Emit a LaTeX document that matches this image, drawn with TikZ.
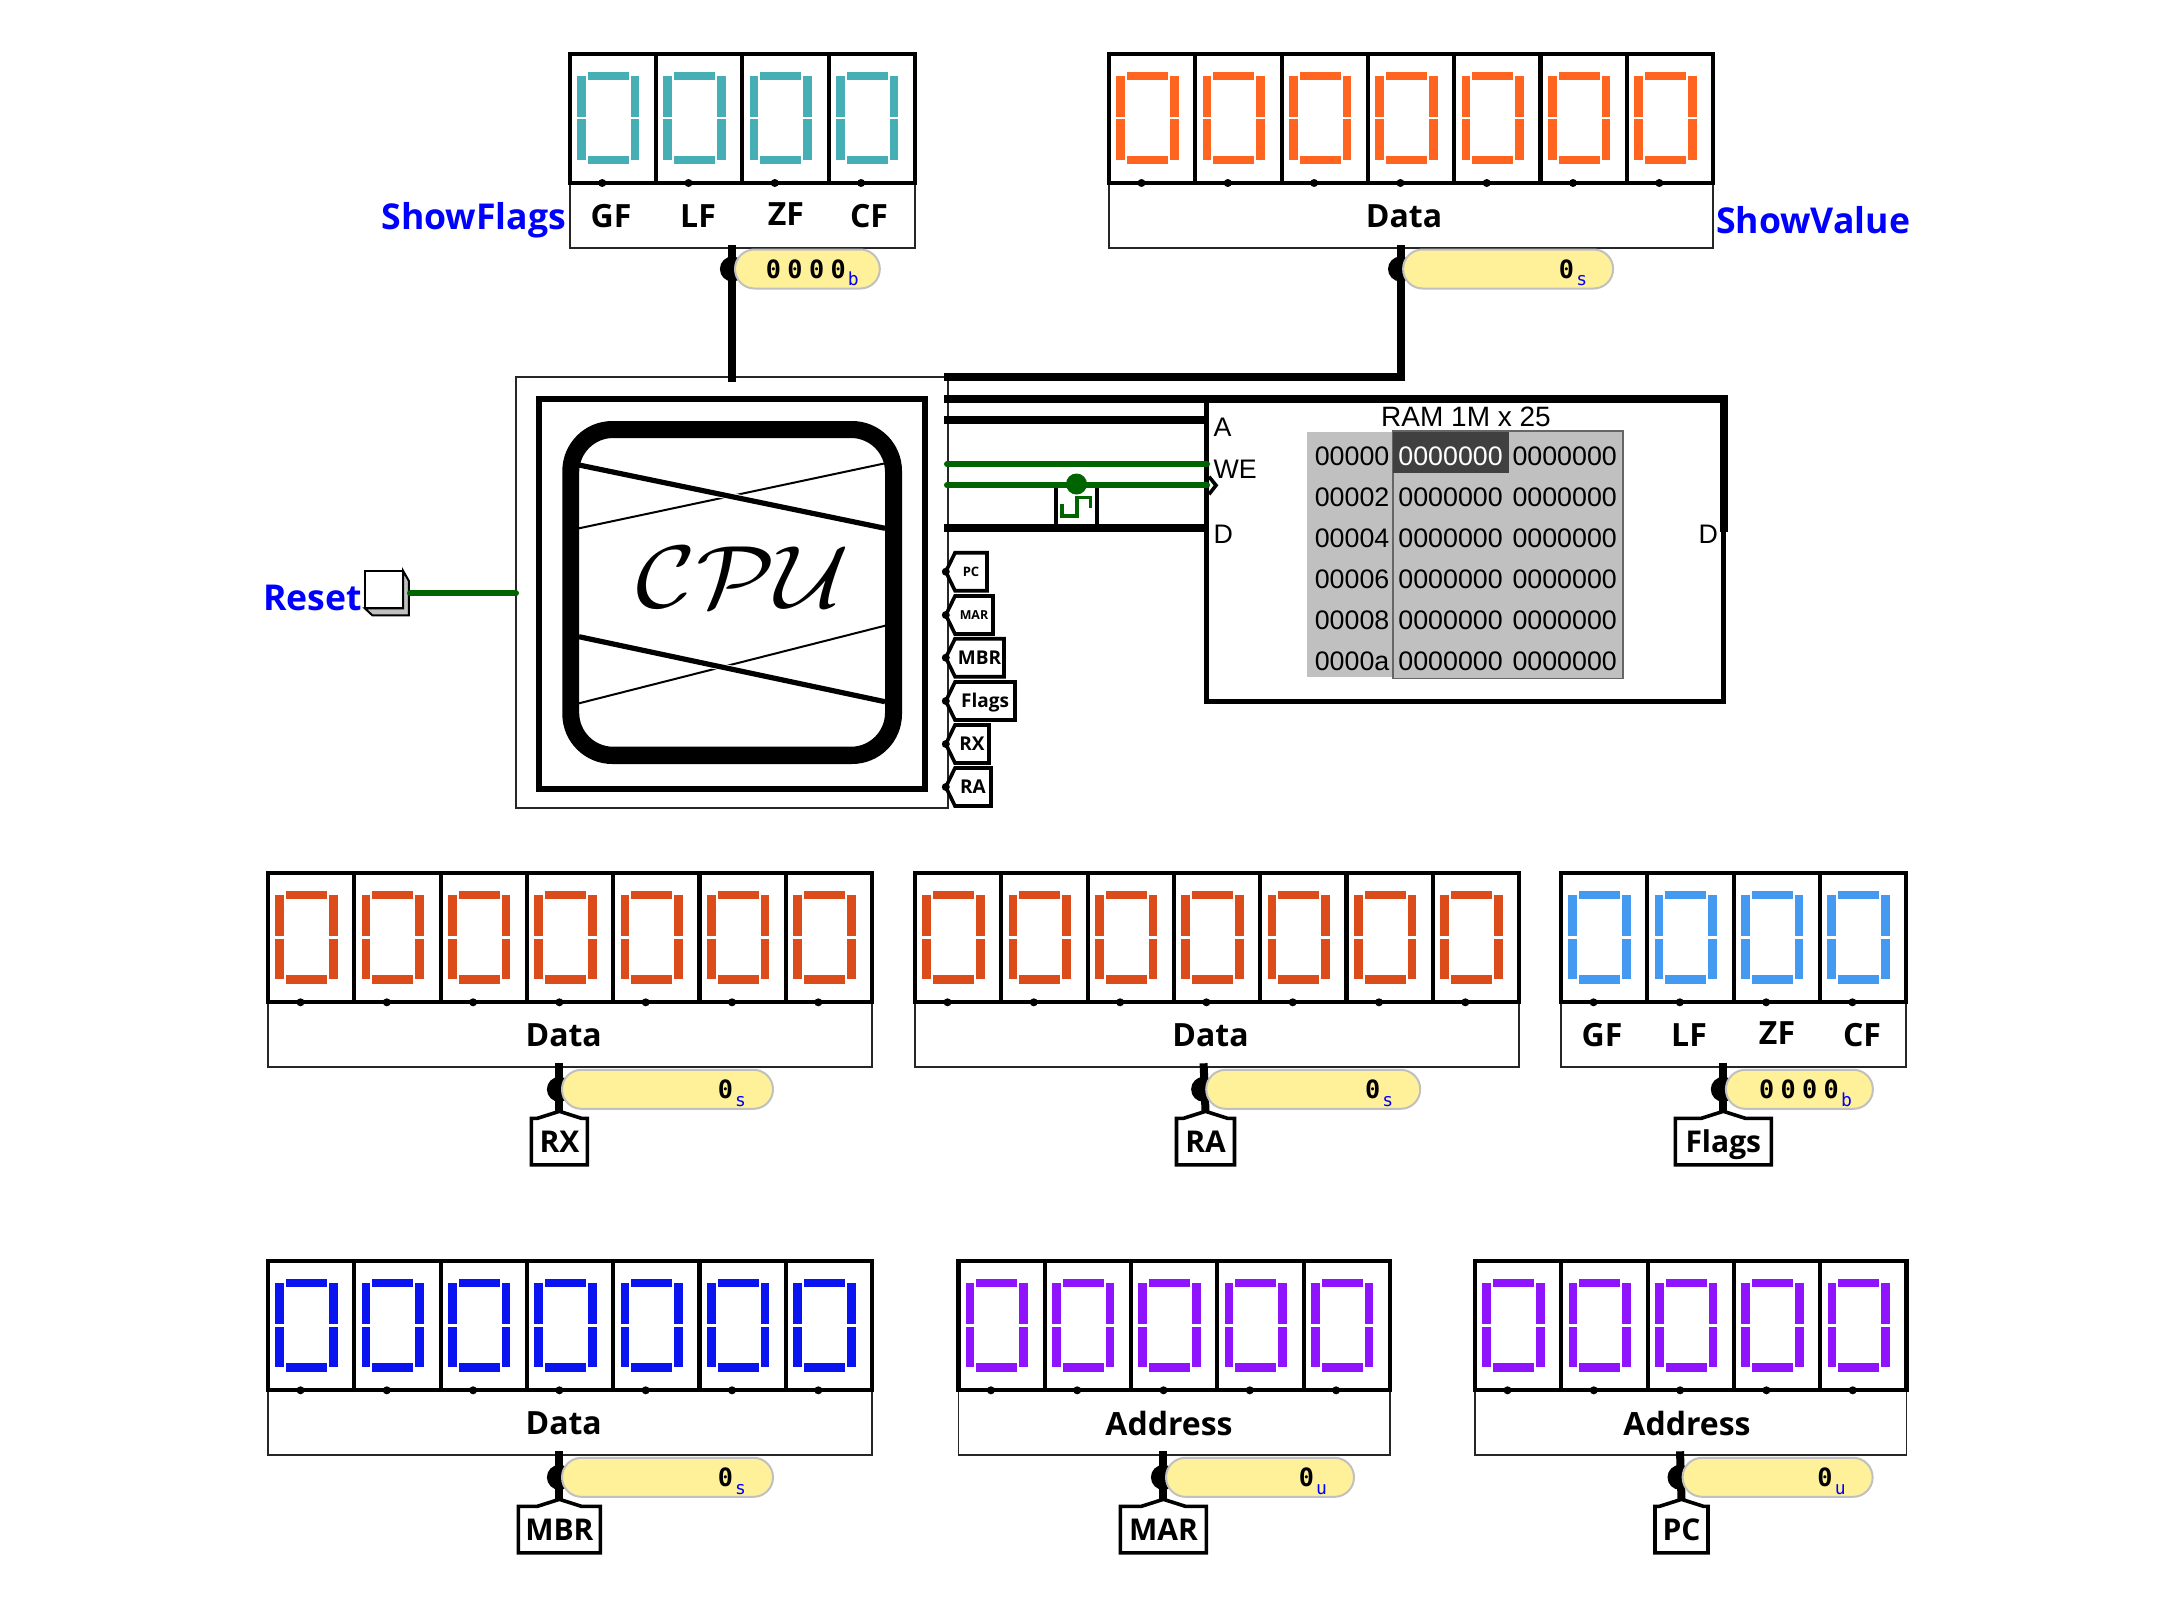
\documentclass[tikz,border=0pt]{standalone}
\usepackage{fontspec}
\setmainfont{Liberation Sans}
\newfontfamily\labelfont{Open Sans}
\newfontfamily\valuefont{DejaVu Sans Mono}
\definecolor{tealseg}{HTML}{46AFB5}
\definecolor{orangeseg}{HTML}{FF6420}
\definecolor{redseg}{HTML}{DC4C1A}
\definecolor{skyseg}{HTML}{4499F0}
\definecolor{blueseg}{HTML}{0A14F0}
\definecolor{purpleseg}{HTML}{9013FE}
\definecolor{wiregreen}{HTML}{006400}
\definecolor{probefill}{HTML}{FFF09A}
\definecolor{memgray}{HTML}{C0C0C0}
\newcommand{\dk}{\kern3.2pt}

\begin{document}
\begin{tikzpicture}[
	x=0.5pt, y=-0.5pt,
	every node/.style={inner sep=0pt, outer sep=0pt},
	thinbox/.style={draw=black!85, line width=0.9pt},
	cellline/.style={draw=black, line width=2.1pt},
	bus/.style={draw=black, line width=4pt},
	ctrl/.style={draw=wiregreen, line width=3pt, line cap=round},
	tunnelline/.style={draw=black, line width=1.8pt, line join=miter},
	probepill/.style={draw=memgray, line width=1pt, fill=probefill, rounded corners=9.7pt,
		minimum height=19.5pt, anchor=west},
	bigtext/.style={font=\labelfont\bfseries\fontsize{16}{16}\selectfont},
	bluetext/.style={font=\labelfont\bfseries\fontsize{17.8}{17.8}\selectfont, text=blue},
	tunneltext/.style={font=\labelfont\bfseries\fontsize{15}{15}\selectfont,
		text height=10.8pt, text depth=0pt},
	ramtext/.style={font=\fontsize{13.4}{13.4}\selectfont},
]
\useasboundingbox (0,0) rectangle (2172,1618);
% Input 1: cell count. Input 2: segment colour. Input 4: top left corner.
\def\display#1[#2](#3)#4{
	\begin{scope}[shift={(#4)}]
		\node[thinbox, minimum width=#1*43.15pt, minimum height=97pt,
			anchor=north west] at (0,0) (#3) {};
		\foreach \i in {1,...,#1}{
			\begin{scope}[shift={({(\i-1)*86.3},0)}]
				\fill[#2] (18,17.7) rectangle (59,26);
				\fill[#2] (18,101.7) rectangle (59,110.3);
				\fill[#2] (7.3,22) rectangle (16,62.7);
				\fill[#2] (7.3,65.3) rectangle (16,106);
				\fill[#2] (61,22) rectangle (69.7,62.7);
				\fill[#2] (61,65.3) rectangle (69.7,106);
				\draw[cellline] (0,0) rectangle (86.3,129);
				\fill (32.5,129) circle (4);
			\end{scope}
		}
	\end{scope}
}
% Input 1: value. Input 2: base letter. Input 4: tap point. Input 5: pill width
% in pt. Input 6: inset of the value from the right end.
\def\probe#1[#2](#3)#4#5#6{
	\fill (#4) circle (12.5);
	\node[probepill, minimum width=#5] at ([xshift=1.3pt]#4) (#3) {};
	\node[anchor=base east, font=\valuefont\bfseries\fontsize{12.6}{12.6}\selectfont]
		at ([xshift=-#6, yshift=-4.6pt]#3.east) (#3val)
		{#1\kern1.1pt\raisebox{-3.8pt}{\mdseries\fontsize{9}{9}\selectfont\textcolor{blue}{#2}}};
}
% Tunnel under a display, apex upward. Input 1: width in pt.
\def\uptunnel#1(#2)#3#4{
	\node[tunneltext, minimum width=#1, minimum height=23.3pt, anchor=north]
		at (#3) (#2) {#4};
	\draw[tunnelline] (#2.north west) -- ([xshift=-11pt]#2.north)
		-- ([yshift=3.5pt]#2.north) -- ([xshift=11pt]#2.north)
		-- (#2.north east) -- (#2.south east) -- (#2.south west) -- cycle;
}
% Tunnel beside the CPU, tip to the left. Input 1: font size. Input 2: width.
\def\sidetunnel#1[#2](#3)#4#5{
	\node[font=\labelfont\bfseries\fontsize{#1}{#1}\selectfont, minimum width=#2,
		minimum height=19pt, text height=#1*0.72pt, text depth=0pt,
		anchor=west] at (955,#4) (#3) {#5};
	\draw[tunnelline] ([xshift=-4.6pt]#3.west) -- (#3.north west)
		-- (#3.north east) -- (#3.south east) -- (#3.south west) -- cycle;
	\fill ([xshift=-4.6pt]#3.west) circle (4);
}
	% Top displays
	\display{4}[tealseg](flags){569.7,54}
	\display{7}[orangeseg](value){1109,54}
	\node[bigtext] at (611,216) (flagsGF) {GF};
	\node[bigtext] at (698,216) (flagsLF) {LF};
	\node[bigtext] at (786,214) (flagsZF) {ZF};
	\node[bigtext] at (869,216) (flagsCF) {CF};
	\node[bigtext] at (1404,216) (valuetxt) {Data};
	\node[bluetext, anchor=east] at (566,220) (showflags) {ShowFlags};
	\node[bluetext, anchor=west] at (1716,220) (showvalue) {ShowValue};

	% CPU
	\node[thinbox, minimum width=215.85pt, minimum height=215.5pt,
		anchor=north west] at (516.3,377.3) (cpu) {};
	\node[draw, line width=3pt, minimum width=193.1pt, minimum height=195pt,
		anchor=north west] at (538.8,399.3) (cpuframe) {};
	\draw[line width=1pt] (579,528.3) -- (885,463.3);
	\draw[line width=1pt] (579,703.3) -- (885,625.7);
	\draw[white, line width=3.6pt] (579,465) -- (885,528.3);
	\draw[white, line width=3.6pt] (579,636.7) -- (885,701.7);
	\draw[line width=2.6pt] (579,465) -- (885,528.3);
	\draw[line width=2.6pt] (579,636.7) -- (885,701.7);
	\fill[even odd rule] [rounded corners=25pt] (562.3,421) rectangle (902,764)
		[rounded corners=17pt] (579.2,438) rectangle (885,746.7);
	\node at (743,577) (cputxt) {\scalebox{5.1}[4.43]{$\mathcal{CPU}$}};

	% RAM
	\node[draw, line width=2.2pt, minimum width=258.5pt, minimum height=151pt,
		anchor=north west] at (1206.6,399.3) (ram) {};
	\node[font=\fontsize{14}{14}\selectfont] at (1466,417.3) (ramtxt) {RAM 1M x 25};
	\node[fill=memgray, minimum width=42.85pt, minimum height=122.8pt,
		anchor=north west] at (1307.3,431.7) (memaddr) {};
	\node[fill=memgray, draw=black!60, line width=0.8pt, minimum width=114.9pt,
		minimum height=123.8pt, anchor=north west] at (1393,430.7) (memdata) {};
	\node[fill=black!75, minimum width=58.4pt, minimum height=20.5pt,
		anchor=north west] at (1392.5,431.7) (memcursor) {};
	\foreach \addr [count=\r from 0] in {00000,00002,00004,00006,00008,0000a}{
		\node[ramtext, anchor=west] at (1314.8,456+41*\r) (addr\r) {\addr};
		\ifnum\r>0
			\node[ramtext, anchor=west] at (1398.4,456+41*\r) (colA\r) {0000000};
		\fi
		\node[ramtext, anchor=west] at (1512.5,456+41*\r) (colB\r) {0000000};
	}
	\node[ramtext, anchor=west, text=white] at (1398.4,456) (colAsel) {0000000};
	\node[ramtext, anchor=west] at (1213.6,427) (ramA) {A};
	\node[ramtext, anchor=west] at (1213.6,469) (ramWE) {WE};
	\node[ramtext, anchor=west] at (1213.6,534) (ramD) {D};
	\node[ramtext, anchor=east] at (1718,534) (ramQ) {D};
	\draw[tunnelline] (1209,476.7) -- (1216,485.3) -- (1209,494.3);

	% Clock on the write line
	\node[draw, line width=2pt, minimum width=20.5pt, minimum height=22pt,
		anchor=north west] at (1056,484) (clk) {};
	\draw[wiregreen, line width=1.8pt] (1062,504) -- (1062,516) -- (1077,516)
		-- (1077,497.3) -- (1090.4,497.3) -- (1090.4,508.3);

	% Wires out of the CPU
	\coordinate (flagsin) at (732.4,245);
	\coordinate (flagscpu) at (732.4,381.7);
	\coordinate (valuein) at (1400.5,245);
	\coordinate (valuecpu) at (944,377.3);
	\coordinate (cpuQ) at (944,399.3);
	\coordinate (ramQpin) at (1723.6,531.7);
	\coordinate (cpuA) at (944,420.3);
	\coordinate (ramApin) at (1209,420.3);
	\coordinate (cpuWE) at (947,464.3);
	\coordinate (ramWEpin) at (1207,464.3);
	\coordinate (cpuclk) at (947,485.3);
	\coordinate (ramclkpin) at (1207,485.3);
	\coordinate (cpuD) at (944,528.3);
	\coordinate (ramDpin) at (1209,528.3);
	\draw[bus] (flagsin) -- (flagscpu);
	\draw[bus] (valuein) |- (valuecpu);
	\draw[bus] (cpuQ) -- (ram.north east) -- (ramQpin);
	\draw[bus] (cpuA) -- (ramApin);
	\draw[bus] (cpuD) -- (ramDpin);
	\draw[ctrl] (cpuWE) -- (ramWEpin);
	\draw[ctrl] (cpuclk) -- (ramclkpin);
	\fill[wiregreen] (clk.north) circle (10.5);
	\probe{0\dk 0\dk 0\dk 0}[b](flagsprobe){732.4,269}{72.4pt}{10.5pt}
	\probe{0}[s](valueprobe){1400.5,269}{105pt}{13pt}

	% Tunnels beside the CPU
	\sidetunnel{6.5}[16pt](sidePC){571.7}{PC}
	\sidetunnel{6.2}[19pt](sideMAR){615}{MAR}
	\sidetunnel{9.5}[24.5pt](sideMBR){657.7}{MBR}
	\sidetunnel{9.5}[30pt](sideFlags){701}{Flags}
	\sidetunnel{9.5}[17pt](sideRX){744}{RX}
	\sidetunnel{9.5}[18pt](sideRA){787}{RA}

	% Reset
	\node[bluetext, anchor=east] at (362,598) (resettxt) {Reset};
	\node[draw, fill=white, line width=1pt, minimum width=19.1pt,
		minimum height=18.8pt, anchor=north west] at (364.8,570.7) (reset) {};
	\filldraw[fill=memgray, line width=1pt] (reset.south west) -- ++(7.5,7)
		-- (408.9,615.3) -- (408.9,581) -- (reset.north east) -- (reset.south east) -- cycle;
	\coordinate (resetout) at (410,593.3);
	\coordinate (cpureset) at (516,593.3);
	\draw[ctrl] (resetout) -- (cpureset);

	% Displays of the first row
	\display{7}[redseg](RXd){268,873.3}
	\display{7}[redseg](RAd){915,873.3}
	\display{4}[skyseg](Flagsd){1561,873.3}
	\node[bigtext] at (563.7,1035) (RXtxt) {Data};
	\node[bigtext] at (1210.5,1035) (RAtxt) {Data};
	\node[bigtext] at (1602,1035) (FlagsGF) {GF};
	\node[bigtext] at (1689,1035) (FlagsLF) {LF};
	\node[bigtext] at (1777,1033) (FlagsZF) {ZF};
	\node[bigtext] at (1862,1035) (FlagsCF) {CF};
	\uptunnel{28pt}(RX){559.4,1118.3}{RX}
	\uptunnel{29pt}(RA){1205.5,1118.3}{RA}
	\uptunnel{48pt}(Flags){1723.3,1118.3}{Flags}
	\coordinate (RXin) at (559.4,1063.3);
	\coordinate (RAin) at (1203.6,1063.3);
	\coordinate (Flagsin) at (1723.3,1063.3);
	\draw[bus] (RXin) -- ([yshift=3.5pt]RX.north);
	\draw[bus] (RAin) -- ([yshift=3.5pt]RA.north);
	\draw[bus] (Flagsin) -- ([yshift=3.5pt]Flags.north);
	\probe{0}[s](RXprobe){559.4,1089.3}{105.5pt}{13.5pt}
	\probe{0}[s](RAprobe){1203.6,1089.3}{107pt}{13.5pt}
	\probe{0\dk 0\dk 0\dk 0}[b](Flagsprobe){1723.3,1089.3}{73.5pt}{10.5pt}

	% Displays of the second row
	\display{7}[blueseg](MBRd){268,1261.3}
	\display{5}[purpleseg](MARd){958.4,1261.3}
	\display{5}[purpleseg](PCd){1475,1261.3}
	\node[bigtext] at (563.7,1423) (MBRtxt) {Data};
	\node[bigtext] at (1169,1423) (MARtxt) {Address};
	\node[bigtext] at (1687,1423) (PCtxt) {Address};
	\uptunnel{41pt}(MBR){559.4,1506.3}{MBR}
	\uptunnel{43pt}(MAR){1163.4,1506.3}{MAR}
	\uptunnel{26.5pt}(PC){1681.5,1506.3}{PC}
	\coordinate (MBRin) at (559.4,1451.3);
	\coordinate (MARin) at (1163.4,1451.3);
	\coordinate (PCin) at (1680,1451.3);
	\draw[bus] (MBRin) -- ([yshift=3.5pt]MBR.north);
	\draw[bus] (MARin) -- ([yshift=3.5pt]MAR.north);
	\draw[bus] (PCin) -- ([yshift=3.5pt]PC.north);
	\probe{0}[s](MBRprobe){559.4,1477.3}{105.5pt}{13.5pt}
	\probe{0}[u](MARprobe){1163.4,1477.3}{94pt}{13.5pt}
	\probe{0}[u](PCprobe){1680,1477.3}{95pt}{13.5pt}
\end{tikzpicture}
\end{document}
